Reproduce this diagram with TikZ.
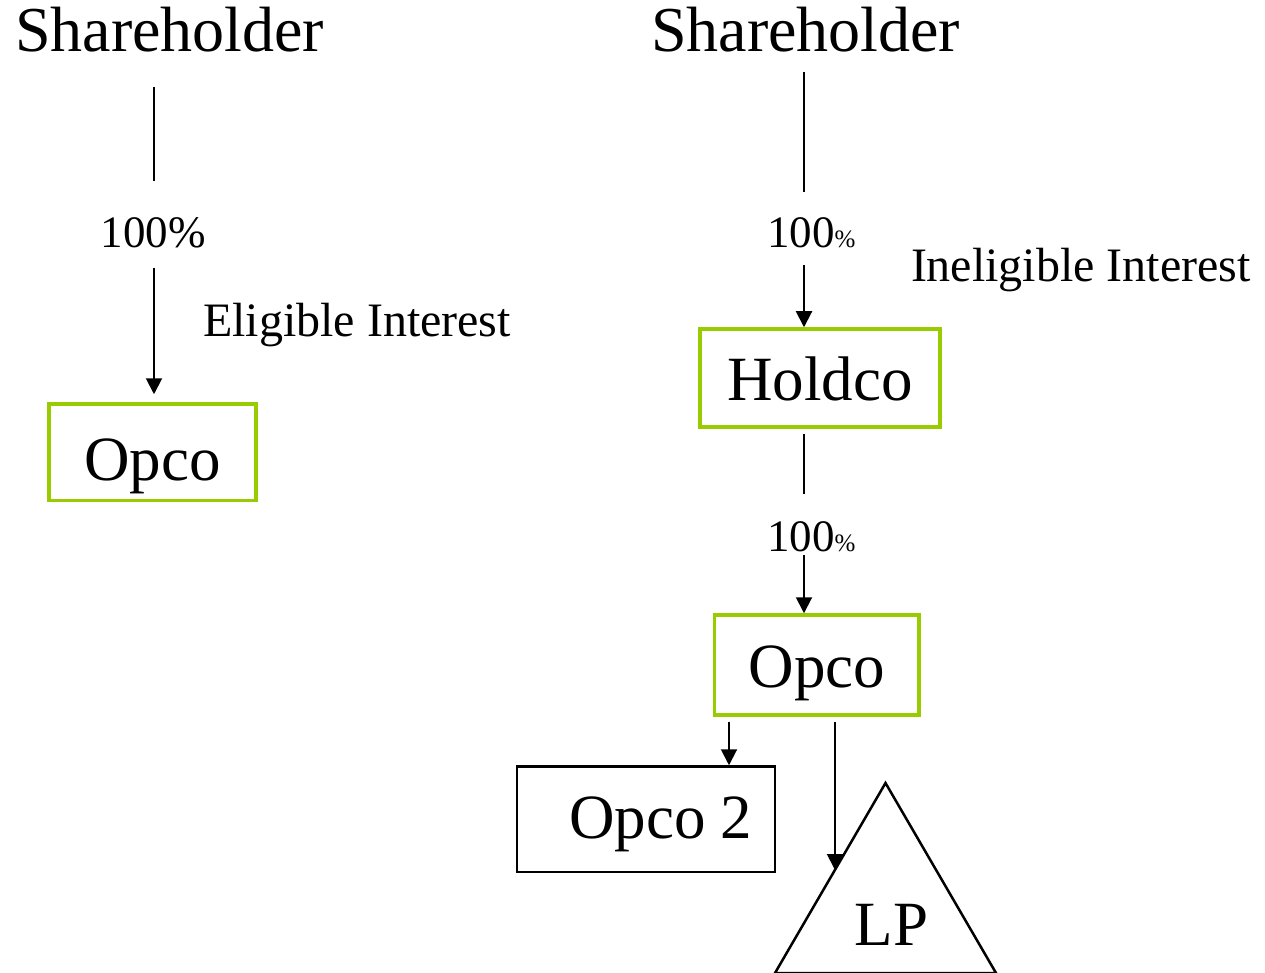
\documentclass[tikz,border=0pt]{standalone}
\usepackage{fontspec}
\setmainfont{Liberation Serif}
\usetikzlibrary{arrows.meta}
\definecolor{boxgreen}{RGB}{153,204,0}
\newcommand{\fsz}[1]{\fontsize{#1pt}{#1pt}\selectfont}

\begin{document}
\begin{tikzpicture}[x=1pt,y=-1pt,
  txt/.style={inner sep=0pt, outer sep=0pt},
  pct/.style={txt, font=\fsz{45}, text height=31pt, text depth=0pt},
  title/.style={txt, font=\fsz{64}, text height=44pt, text depth=0pt},
  note/.style={txt, font=\fsz{48}},
  gbox/.style={draw=boxgreen, line width=3.5pt, inner sep=0pt, font=\fsz{63}},
  kbox/.style={draw=black, line width=2.5pt, inner sep=0pt, font=\fsz{63}},
  link/.style={line width=2pt},
  arr/.style={link, -{Triangle[length=16pt,width=16pt]}},
]
\useasboundingbox (0,0) rectangle (1265,973);

% vertical guide positions of the connectors
\coordinate (spineL) at (154,0);
\coordinate (spineR) at (804,0);
\coordinate (tapA) at (729,0);
\coordinate (tapB) at (835,0);

% left structure: direct holding
\node[title, anchor=base west] (shL) at (15,52) {Shareholder};
\node[pct, anchor=base] (pL) at (153,248) {100\%};
\node[note, anchor=base west] (elig) at (203,336) {Eligible Interest};
\node[gbox, minimum width=207pt, text height=76pt, text depth=20.5pt] (opcoL) at (152.5,452.25) {Opco};

% right structure: holding through Holdco
\node[title, anchor=base west] (shR) at (651,52) {Shareholder};
\node[pct, anchor=base west] (pR1) at (767,248) {100{\fsz{25}\%}};
\node[note, anchor=base west] (inel) at (911,282) {Ineligible Interest};
\node[gbox, minimum width=240pt, text height=71pt, text depth=27pt] (holdco) at (820,378) {Holdco};
\node[pct, anchor=base west] (pR2) at (767,551) {100{\fsz{25}\%}};
\node[gbox, minimum width=204.5pt, text height=72pt, text depth=28pt] (opcoR) at (816.75,665) {Opco};
\node[kbox, text width=212pt, inner xsep=23pt, align=right, text height=71.5pt, text depth=34pt] (opco2) at (646,819.25) {Opco\hspace{-0.1em} 2};

% limited partnership
\coordinate (lpTop) at (885.5,783);
\coordinate (lpLeft) at (775,973);
\coordinate (lpRight) at (996,973);
\coordinate (lpHit) at (835,870);
\draw[line width=2.5pt] (lpTop) -- (lpLeft) -- (lpRight) -- cycle;
\node[txt, font=\fsz{63}, anchor=base] (lp) at (891.5,945) {LP};

% connectors, left
\draw[link, shorten <=35pt, shorten >=36pt] (shL.south -| spineL) -- (pL.north -| spineL);
\draw[arr, shorten <=20pt, shorten >=8pt] (pL.south -| spineL) -- (opcoL.north -| spineL);

% connectors, right
\draw[link, shorten <=20pt, shorten >=25pt] (shR.south -| spineR) -- (pR1.north -| spineR);
\draw[arr, shorten <=17pt] (pR1.south -| spineR) -- (holdco.north -| spineR);
\draw[link, shorten <=5pt, shorten >=26pt] (holdco.south -| spineR) -- (pR2.north -| spineR);
\draw[arr, shorten <=4pt] (pR2.south -| spineR) -- (opcoR.north -| spineR);
\draw[arr, shorten <=5pt] (opcoR.south -| tapA) -- (opco2.north -| tapA);
\draw[arr, shorten <=5pt] (opcoR.south -| tapB) -- (lpHit);
\end{tikzpicture}
\end{document}
